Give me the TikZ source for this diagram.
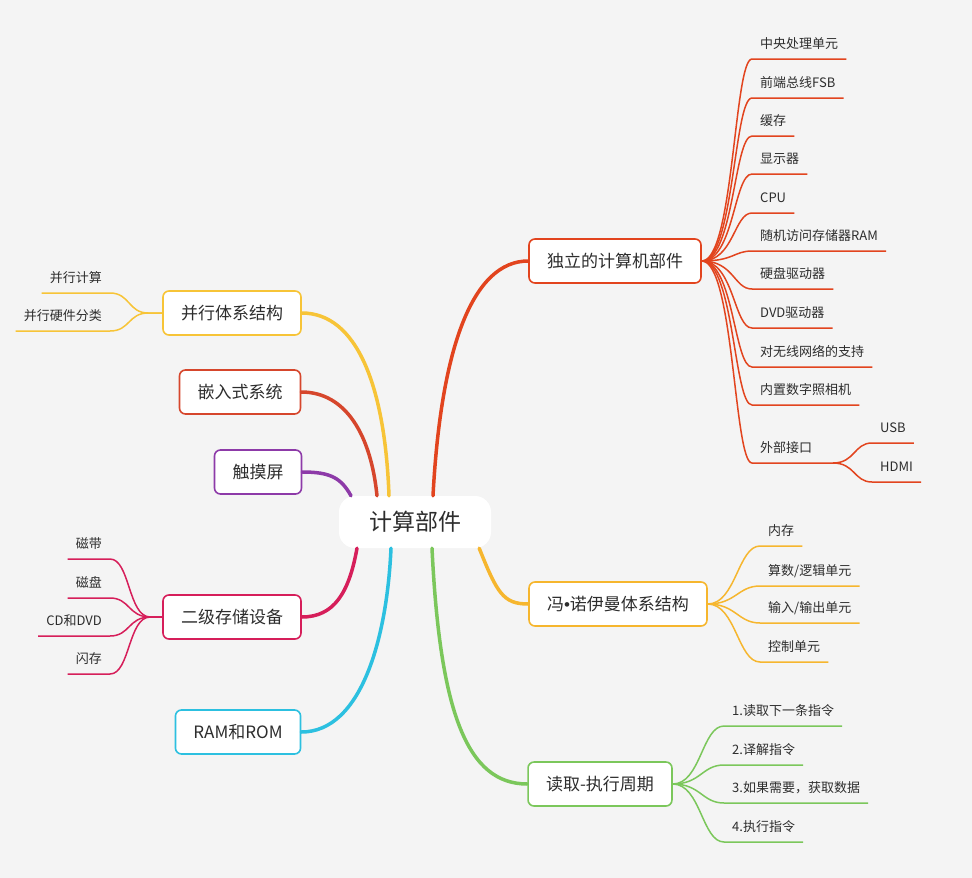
\documentclass[tikz,border=0pt]{standalone}
\usepackage{fontspec}
\setmainfont{Noto Sans CJK SC}
\newfontfamily\latinfont{Liberation Sans}
\usepackage{xcolor}
\usepackage{tikz}
\usetikzlibrary{positioning, calc, backgrounds}
\definecolor{bggray}{RGB}{244,244,244}
\definecolor{textgray}{RGB}{45,45,45}
\definecolor{partred}{RGB}{226,68,30}
\definecolor{embred}{RGB}{214,70,44}
\definecolor{paryellow}{RGB}{247,196,55}
\definecolor{vonorange}{RGB}{246,182,46}
\definecolor{touchpurple}{RGB}{141,58,168}
\definecolor{storepink}{RGB}{214,30,90}
\definecolor{ramcyan}{RGB}{44,192,224}
\definecolor{cyclegreen}{RGB}{123,199,91}

\begin{document}
\begin{tikzpicture}[
  x=1pt, y=-1pt,
  topic/.style={rectangle, draw=#1, fill=white, text=textgray,
                rounded corners=6pt, line width=1.6pt, minimum height=44pt,
                inner xsep=18pt, font=\fontsize{17}{19}\selectfont},
  leaf/.style={inner xsep=8pt, inner ysep=7pt, text height=10pt, text depth=3pt,
               text=textgray, font=\fontsize{13}{15}\selectfont},
  branch/.style={line width=3.5pt, line cap=round, #1},
  twig/.style={line width=1.5pt, #1},
]
\fill[bggray] (0,0) rectangle (972,878);
\useasboundingbox (0,0) rectangle (972,878);

% Centre and main topics
\node[fill=white, rounded corners=16pt, minimum width=152pt, minimum height=52pt,
      text=textgray, font=\fontsize{23}{25}\selectfont] (root) at (415,522) {计算部件};

\node[topic=partred] (parts) at (615,261) {独立的计算机部件};
\node[topic=vonorange] (vonneu) at (618,604) {冯{\latinfont•}诺伊曼体系结构};
\node[topic=cyclegreen] (cycle) at (600,784) {读取-执行周期};
\node[topic=paryellow] (parallel) at (232,313) {并行体系结构};
\node[topic=embred] (embedded) at (240,392) {嵌入式系统};
\node[topic=touchpurple] (touch) at (258,472) {触摸屏};
\node[topic=storepink] (storage) at (232,617) {二级存储设备};
\node[topic=ramcyan] (ramrom) at (238,732) {RAM和ROM};

\draw[branch=partred] ([xshift=18pt]root.north) .. controls +(8,-150) and +(-55,0) .. (parts.west);
\draw[branch=vonorange] ([xshift=-12pt]root.south east) .. controls +(18,45) and +(-25,0) .. (vonneu.west);
\draw[branch=cyclegreen] ([xshift=17pt]root.south) .. controls +(8,165) and +(-60,0) .. (cycle.west);
\draw[branch=paryellow] (parallel.east) .. controls +(55,0) and +(-4,-110) .. ([xshift=-26pt]root.north);
\draw[branch=embred] (embedded.east) .. controls +(45,0) and +(-6,-60) .. ([xshift=-38pt]root.north);
\draw[branch=touchpurple] (touch.east) .. controls +(28,0) and +(-10,-18) .. ([xshift=-64pt]root.north);
\draw[branch=storepink] (storage.east) .. controls +(32,0) and +(-8,45) .. ([xshift=-58pt]root.south);
\draw[branch=ramcyan] (ramrom.east) .. controls +(60,0) and +(-4,90) .. ([xshift=-24pt]root.south);

% Independent parts
\node[leaf, anchor=south west] (cpuunit) at (752,59) {中央处理单元};
\node[leaf, anchor=south west] (fsb) at (752,98) {前端总线FSB};
\node[leaf, anchor=south west] (cache) at (752,136) {缓存};
\node[leaf, anchor=south west] (display) at (752,174) {显示器};
\node[leaf, anchor=south west] (cpu) at (752,213) {CPU};
\node[leaf, anchor=south west] (ram) at (752,251) {随机访问存储器RAM};
\node[leaf, anchor=south west] (hdd) at (752,289) {硬盘驱动器};
\node[leaf, anchor=south west] (dvd) at (752,328) {DVD驱动器};
\node[leaf, anchor=south west] (wifi) at (752,367) {对无线网络的支持};
\node[leaf, anchor=south west] (camera) at (752,405) {内置数字照相机};
\node[leaf, anchor=south west] (ports) at (752,463) {外部接口};
\coordinate (portknot) at (833,463);
\node[leaf, anchor=south west] (usb) at (872,443) {USB};
\node[leaf, anchor=south west] (hdmi) at (872,482) {HDMI};

\foreach \leafname in {cpuunit, fsb, cache, display, cpu, ram, hdd, dvd, wifi, camera}
  \draw[twig=partred] (parts.east) .. controls +(32,0) and +(-18,0) .. (\leafname.south west) -- (\leafname.south east);
\draw[twig=partred] (parts.east) .. controls +(32,0) and +(-18,0) .. (ports.south west) -- (portknot);
\draw[twig=partred] (portknot) .. controls +(22,0) and +(-18,0) .. (usb.south west) -- (usb.south east);
\draw[twig=partred] (portknot) .. controls +(22,0) and +(-18,0) .. (hdmi.south west) -- (hdmi.south east);

% Von Neumann
\node[leaf, anchor=south west] (memory) at (760,546) {内存};
\node[leaf, anchor=south west] (alu) at (760,586) {算数/逻辑单元};
\node[leaf, anchor=south west] (iounit) at (760,623) {输入/输出单元};
\node[leaf, anchor=south west] (control) at (760,662) {控制单元};
\foreach \leafname in {memory, alu, iounit, control}
  \draw[twig=vonorange] (vonneu.east) .. controls +(28,0) and +(-22,0) .. (\leafname.south west) -- (\leafname.south east);

% Fetch-execute cycle
\node[leaf, anchor=south west] (fetch) at (724,726) {1.读取下一条指令};
\node[leaf, anchor=south west] (decode) at (724,765) {2.译解指令};
\node[leaf, anchor=south west] (getdata) at (724,803) {3.如果需要，获取数据};
\node[leaf, anchor=south west] (execute) at (724,842) {4.执行指令};
\foreach \leafname in {fetch, decode, getdata, execute}
  \draw[twig=cyclegreen] (cycle.east) .. controls +(28,0) and +(-22,0) .. (\leafname.south west) -- (\leafname.south east);

% Parallel
\node[leaf, anchor=south east] (parcomp) at (110,293) {并行计算};
\node[leaf, anchor=south east] (parhw) at (110,331) {并行硬件分类};
\foreach \leafname in {parcomp, parhw}
  \draw[twig=paryellow] (parallel.west) -- ++(-14,0) .. controls +(-20,0) and +(20,0) .. (\leafname.south east) -- (\leafname.south west);

% Secondary storage
\node[leaf, anchor=south east] (tape) at (110,559) {磁带};
\node[leaf, anchor=south east] (disk) at (110,598) {磁盘};
\node[leaf, anchor=south east] (cddvd) at (110,636) {CD和DVD};
\node[leaf, anchor=south east] (flash) at (110,674) {闪存};
\foreach \leafname in {tape, disk, cddvd, flash}
  \draw[twig=storepink] (storage.west) -- ++(-12,0) .. controls +(-22,0) and +(20,0) .. (\leafname.south east) -- (\leafname.south west);

\end{tikzpicture}
\end{document}
